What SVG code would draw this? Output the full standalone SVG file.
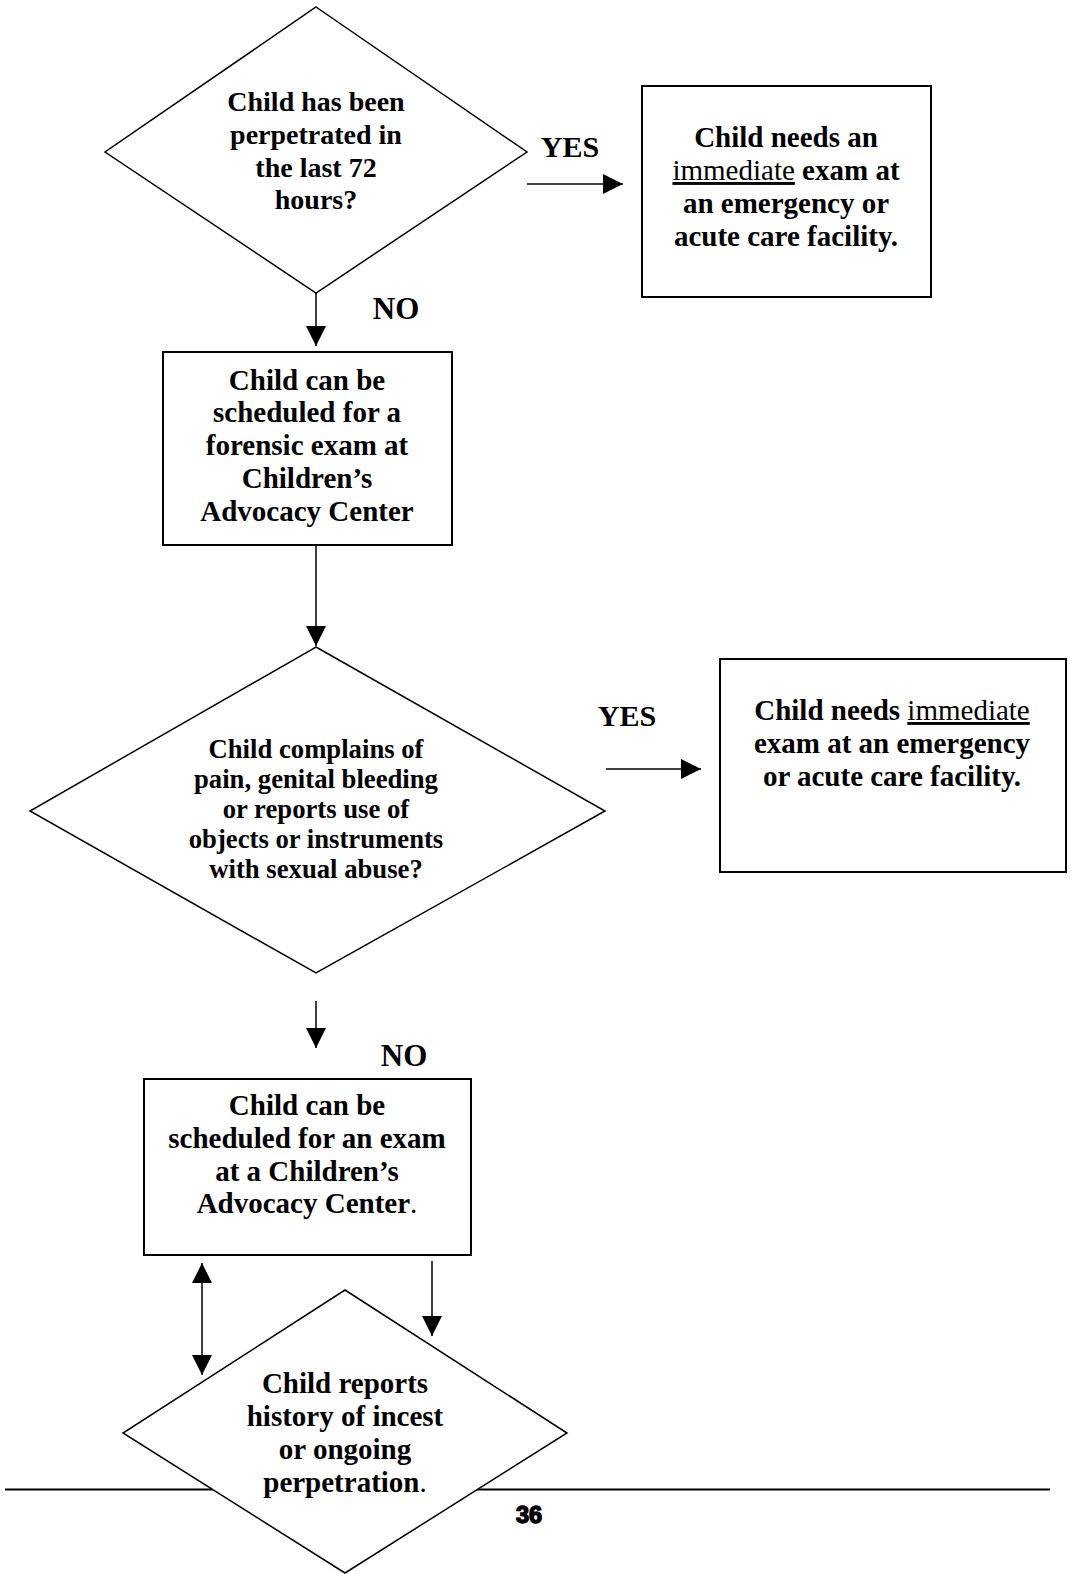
<svg xmlns="http://www.w3.org/2000/svg" width="1070" height="1574" viewBox="0 0 1070 1574">
<style>
.shape{fill:#fff;stroke:#000;stroke-width:1.5}
.box{fill:#fff;stroke:#000;stroke-width:2}
.t{font-family:"Liberation Serif","Times New Roman",serif;font-weight:bold;font-size:29px;text-anchor:middle;fill:#000}
.t1{font-size:28px}
.t2{font-size:26.7px}
.lbl{font-family:"Liberation Serif","Times New Roman",serif;font-weight:bold;font-size:30px;text-anchor:middle;fill:#000}
.no{font-size:31px}
.u{text-decoration:underline;font-weight:normal}
.n{font-weight:normal}
.c{stroke:#000;stroke-width:1.5;fill:none}
</style>
<defs>
<marker id="ah" viewBox="0 0 20 20" refX="20" refY="10" markerWidth="20" markerHeight="20" markerUnits="userSpaceOnUse" orient="auto-start-reverse">
<path d="M0,0 L20,10 L0,20 z" fill="#000"/>
</marker>
</defs>
<rect width="1070" height="1574" fill="#fff"/>

<g id="connectors">
<line class="c" x1="527" y1="184" x2="623" y2="184" marker-end="url(#ah)"/>
<line class="c" x1="316" y1="293" x2="316" y2="346" marker-end="url(#ah)"/>
<line class="c" x1="316" y1="545" x2="316" y2="646" marker-end="url(#ah)"/>
<line class="c" x1="606" y1="769" x2="701" y2="769" marker-end="url(#ah)"/>
<line class="c" x1="316" y1="1001" x2="316" y2="1048" marker-end="url(#ah)"/>
<line class="c" x1="202" y1="1263" x2="202" y2="1375" marker-start="url(#ah)" marker-end="url(#ah)"/>
<line class="c" x1="432" y1="1261" x2="432" y2="1336" marker-end="url(#ah)"/>
<text class="lbl" x="570" y="157">YES</text>
<text class="lbl no" x="396" y="319">NO</text>
<text class="lbl" x="627" y="726">YES</text>
<text class="lbl no" x="404" y="1066">NO</text>
</g>

<g id="footer">
<line x1="5" y1="1489.5" x2="1050" y2="1489.5" stroke="#000" stroke-width="2.2"/>
<text x="529" y="1523" font-family="'Liberation Sans',Arial,sans-serif" font-weight="900" font-size="23.5" text-anchor="middle" stroke="#000" stroke-width="1.4" fill="#000">36</text>
</g>

<g id="d1">
<polygon class="shape" points="316,7 527,152 316,293 105,152"/>
<text class="t t1" x="316" y="111">Child has been</text>
<text class="t t1" x="316" y="144">perpetrated in</text>
<text class="t t1" x="316" y="177">the last 72</text>
<text class="t t1" x="316" y="209">hours?</text>
</g>

<g id="b1">
<rect class="box" x="642" y="86" width="289" height="211"/>
<text class="t" x="786" y="147">Child needs an</text>
<text class="t" x="786" y="180"><tspan class="u">immediate</tspan> exam at</text>
<text class="t" x="786" y="213">an emergency or</text>
<text class="t" x="786" y="246">acute care facility.</text>
</g>

<g id="b2">
<rect class="box" x="163" y="352" width="289" height="193"/>
<text class="t" x="307" y="390">Child can be</text>
<text class="t" x="307" y="422">scheduled for a</text>
<text class="t" x="307" y="455">forensic exam at</text>
<text class="t" x="307" y="488">Children’s</text>
<text class="t" x="307" y="521">Advocacy Center</text>
</g>

<g id="d2">
<polygon class="shape" points="316,647 605,811 316,973 30,811"/>
<text class="t t2" x="316" y="758">Child complains of</text>
<text class="t t2" x="316" y="788">pain, genital bleeding</text>
<text class="t t2" x="316" y="818">or reports use of</text>
<text class="t t2" x="316" y="848">objects or instruments</text>
<text class="t t2" x="316" y="878">with sexual abuse?</text>
</g>

<g id="b3">
<rect class="box" x="720" y="659" width="346" height="213"/>
<text class="t" x="892" y="720">Child needs <tspan class="u">immediate</tspan></text>
<text class="t" x="892" y="753">exam at an emergency</text>
<text class="t" x="892" y="786">or acute care facility.</text>
</g>

<g id="b4">
<rect class="box" x="144" y="1079" width="327" height="176"/>
<text class="t" x="307" y="1115">Child can be</text>
<text class="t" x="307" y="1148">scheduled for an exam</text>
<text class="t" x="307" y="1181">at a Children’s</text>
<text class="t" x="307" y="1213">Advocacy Center<tspan class="n">.</tspan></text>
</g>

<g id="d3">
<polygon class="shape" points="345,1290 567,1433 345,1573 123,1433"/>
<text class="t" x="345" y="1393">Child reports</text>
<text class="t" x="345" y="1426">history of incest</text>
<text class="t" x="345" y="1459">or ongoing</text>
<text class="t" x="345" y="1492">perpetration<tspan class="n">.</tspan></text>
</g>
</svg>
